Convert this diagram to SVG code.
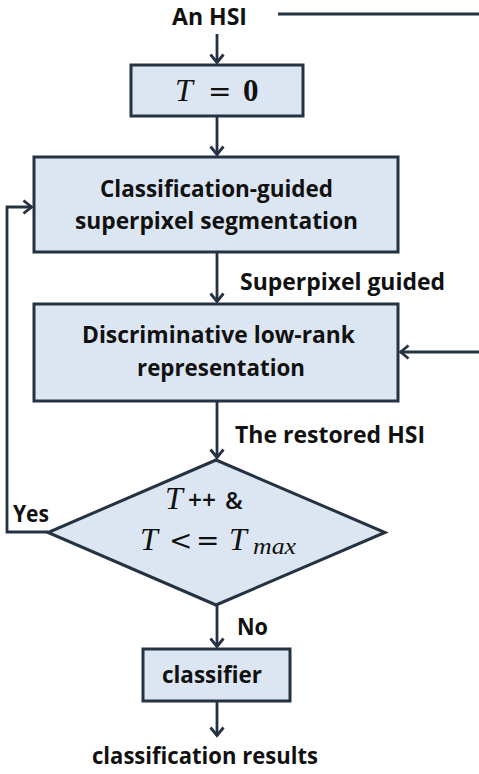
<svg xmlns="http://www.w3.org/2000/svg" width="479" height="774" viewBox="0 0 479 774">
<defs>
<marker id="arr" viewBox="0 0 12 16" refX="10.5" refY="8" markerWidth="12" markerHeight="16" markerUnits="userSpaceOnUse" orient="auto">
<path d="M2,1.5 L10,8 L2,14.5" fill="none" stroke="#253241" stroke-width="2.8"/>
</marker>
</defs>
<style>
.box{fill:#dce6f2;stroke:#253241;stroke-width:3}
.ln{fill:none;stroke:#253241;stroke-width:2.8}
.t{font-family:"Open Sans","Liberation Sans",sans-serif;font-weight:bold;fill:#111;font-size:23px}
.m{font-family:"Liberation Serif","DejaVu Serif",serif;fill:#111}
.r{font-family:"DejaVu Serif",serif;fill:#111}
.s{font-family:"Open Sans","Liberation Sans",sans-serif;fill:#111}
</style>
<rect width="479" height="774" fill="#fff"/>
<g id="connectors">
<line class="ln" x1="278" y1="14" x2="479" y2="14"/>
<line class="ln" x1="217" y1="34" x2="217" y2="63" marker-end="url(#arr)"/>
<line class="ln" x1="217" y1="116" x2="217" y2="155" marker-end="url(#arr)"/>
<line class="ln" x1="217" y1="252" x2="217" y2="302" marker-end="url(#arr)"/>
<line class="ln" x1="479" y1="352" x2="400" y2="352" marker-end="url(#arr)"/>
<line class="ln" x1="217" y1="401" x2="217" y2="458" marker-end="url(#arr)"/>
<polyline class="ln" points="48,532 7,532 7,207 32,207" marker-end="url(#arr)"/>
<line class="ln" x1="217" y1="605" x2="217" y2="647" marker-end="url(#arr)"/>
<line class="ln" x1="217" y1="701" x2="217" y2="736" marker-end="url(#arr)"/>
</g>
<g id="input"><text class="t" x="172" y="25" font-size="20" textLength="75" lengthAdjust="spacingAndGlyphs">An HSI</text></g>
<g id="init">
<rect class="box" x="131" y="65" width="172" height="51"/>
<text class="m" x="175" y="101" font-size="32" font-style="italic">T</text>
<text class="r" x="208" y="101" font-size="28">=</text>
<text class="m" x="243" y="101" font-size="31" font-weight="bold">0</text>
</g>
<g id="seg">
<rect class="box" x="34" y="157" width="364" height="95"/>
<text class="t" x="100" y="197" textLength="233" lengthAdjust="spacingAndGlyphs">Classification-guided</text>
<text class="t" x="75" y="229" textLength="283" lengthAdjust="spacingAndGlyphs">superpixel segmentation</text>
</g>
<g id="lbl-sp"><text class="t" x="240" y="290" textLength="205" lengthAdjust="spacingAndGlyphs">Superpixel guided</text></g>
<g id="dlrr">
<rect class="box" x="34" y="304" width="364" height="97"/>
<text class="t" x="82" y="343" textLength="273" lengthAdjust="spacingAndGlyphs">Discriminative low-rank</text>
<text class="t" x="137" y="376" textLength="168" lengthAdjust="spacingAndGlyphs">representation</text>
</g>
<g id="lbl-rest"><text class="t" x="235" y="443" textLength="190" lengthAdjust="spacingAndGlyphs">The restored HSI</text></g>
<g id="decision">
<polygon class="box" points="216,460 385,532.5 216,605 48,532.5"/>
<text class="m" x="165" y="509" font-size="32" font-style="italic">T</text>
<text class="s" x="188" y="509" font-size="26" font-weight="600" textLength="28" lengthAdjust="spacingAndGlyphs">++</text>
<text class="s" x="225" y="509" font-size="24" font-weight="600">&amp;</text>
<text class="m" x="140" y="550" font-size="32" font-style="italic">T</text>
<text class="r" x="169" y="550" font-size="28">&lt;</text>
<text class="r" x="196" y="550" font-size="28">=</text>
<text class="m" x="229" y="550" font-size="32" font-style="italic">T</text>
<text class="m" x="253" y="554" font-size="23" font-style="italic" textLength="43" lengthAdjust="spacingAndGlyphs">max</text>
</g>
<g id="lbl-yes"><text class="t" x="13" y="522" textLength="36" lengthAdjust="spacingAndGlyphs">Yes</text></g>
<g id="lbl-no"><text class="t" x="237" y="635" textLength="31" lengthAdjust="spacingAndGlyphs">No</text></g>
<g id="classifier">
<rect class="box" x="143" y="649" width="147" height="52"/>
<text class="t" x="162" y="683" textLength="100" lengthAdjust="spacingAndGlyphs">classifier</text>
</g>
<g id="output"><text class="t" x="92" y="764" textLength="226" lengthAdjust="spacingAndGlyphs">classification results</text></g>
</svg>
